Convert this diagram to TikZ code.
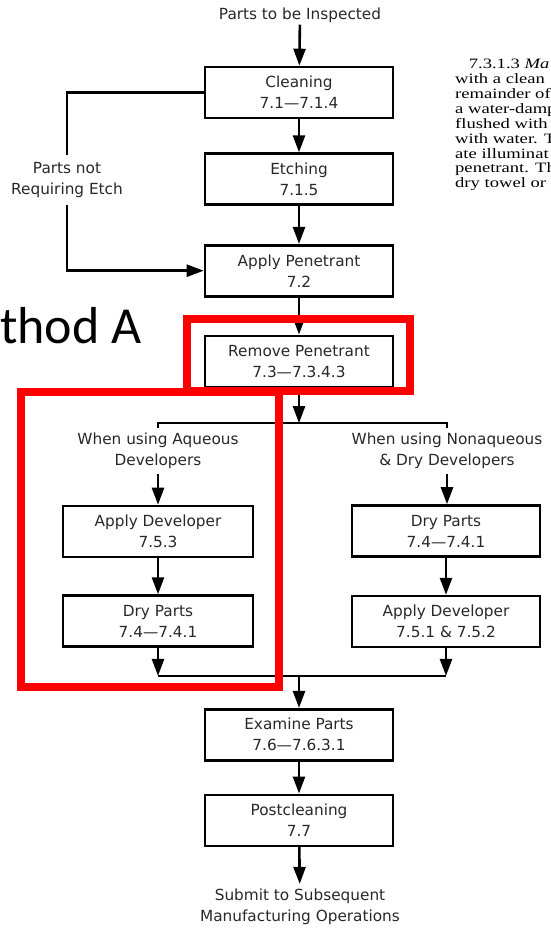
\documentclass[tikz,border=0pt]{standalone}
\usepackage{fontspec}
\setmainfont{DejaVu Sans}
\newfontfamily\paperfont{Liberation Serif}
\newfontfamily\slidefont{Carlito}
\usetikzlibrary{arrows.meta,positioning,calc}
\definecolor{flowtext}{RGB}{40,40,40}
\definecolor{markred}{RGB}{255,0,0}
\newcommand{\flowfont}{\fontsize{15.3}{21}\selectfont}

\begin{document}
\begin{tikzpicture}[
    x=1pt, y=1pt,
    >={Triangle[length=17pt,width=12pt]},
    stage/.style={draw, line width=2.6pt, minimum width=188pt, minimum height=51pt, align=center, font=\flowfont, text=flowtext, inner sep=2pt},
    note/.style={align=center, font=\flowfont, text=flowtext, inner sep=5pt},
    flow/.style={line width=2.6pt},
    redframe/.style={draw=markred, line width=8pt}
]
    \fill[white] (0,0) rectangle (551,-930);
    \useasboundingbox (0,0) rectangle (551,-930);

    % Coluna principal (topo)
    \node[note, inner sep=2pt] (start) at (300,-15) {Parts to be Inspected};
    \node[stage] (clean) at (299,-92.5) {Cleaning\\7.1—7.1.4};
    \node[stage, below=33pt of clean] (etch) {Etching\\7.1.5};
    \node[stage, below=38pt of etch] (pen) {Apply Penetrant\\7.2};
    \node[stage, below=37pt of pen] (rempen) {Remove Penetrant\\7.3—7.3.4.3};
    \node[note, inner ysep=7pt] (etchnote) at (67,-180) {Parts not\\Requiring Etch};

    % Ramos dos reveladores
    \coordinate[below=35pt of rempen] (split);
    \node[note] (aqnote) at (158,-451) {When using Aqueous\\Developers};
    \node[note] (nanote) at (447,-451) {When using Nonaqueous\\\& Dry Developers};
    \node[stage, minimum width=190pt] (aqdev) at (158,-531.5) {Apply Developer\\7.5.3};
    \node[stage, minimum width=190pt, below=36pt of aqdev] (aqdry) {Dry Parts\\7.4—7.4.1};
    \node[stage] (nadry) at (446,-531) {Dry Parts\\7.4—7.4.1};
    \node[stage, below=37pt of nadry] (nadev) {Apply Developer\\7.5.1 \& 7.5.2};
    \coordinate[below=28pt of aqdry] (aqend);
    \coordinate (merge) at (rempen |- aqend);

    % Coluna principal (base)
    \node[stage, below=32pt of merge] (examine) {Examine Parts\\7.6—7.6.3.1};
    \node[stage, below=32pt of examine] (post) {Postcleaning\\7.7};
    \node[note] (submit) at (300,-907) {Submit to Subsequent\\Manufacturing Operations};

    % Ligacoes
    \draw[flow, ->] (start) -- (clean);
    \draw[flow, ->] (clean) -- (etch);
    \draw[flow, ->] (etch) -- (pen);
    \draw[flow, ->] (pen) -- (rempen);
    \draw[flow] (clean.west) -| (etchnote.north);
    \draw[flow, ->] (etchnote.south) |- (pen.west);
    \draw[flow, ->] (rempen) -- (split);
    \draw[flow] (aqnote.north) |- (split) -| (nanote.north);
    \draw[flow, ->] (aqnote) -- (aqdev);
    \draw[flow, ->] (aqdev) -- (aqdry);
    \draw[flow, ->] (nanote.south) -- (nanote.south |- nadry.north);
    \draw[flow, ->] (nadry) -- (nadev);
    \draw[flow, ->] (aqdry) -- (aqend);
    \draw[flow, ->] (nadev.south) -- (nadev.south |- aqend);
    \draw[flow] (aqend) -- (nadev.south |- aqend);
    \draw[flow, ->] (merge) -- (examine);
    \draw[flow, ->] (examine) -- (post);
    \draw[flow, ->] (post) -- (submit);

    % Marcas vermelhas e textos cortados da captura
    \draw[redframe] (186.5,-319) rectangle (409.5,-390.5);
    \draw[redframe] (21,-392) rectangle (279,-687);
    \node[font=\slidefont\fontsize{52}{60}\selectfont, anchor=base west, inner sep=0pt] (method) at (0,-343) {thod A};
    \node[font=\paperfont\fontsize{14.3}{14.9}\selectfont, anchor=north west, inner sep=0pt] (para) at (455,-58)
        {\scalebox{1.3}[1]{\begin{tabular}{@{}l@{}}\hspace*{10.5pt}7.3.1.3 \textit{Ma}\\with a clean\\remainder of\\a water-damp\\flushed with\\with water. T\\ate illuminat\\penetrant. Th\\dry towel or\end{tabular}}};
\end{tikzpicture}
\end{document}
